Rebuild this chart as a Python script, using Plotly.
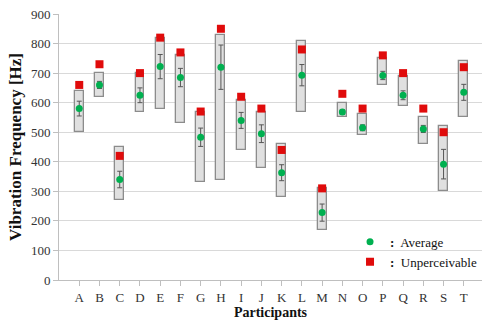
import plotly.graph_objects as go

participants = list("ABCDEFGHIJKLMNOPQRST")
range_min = [500, 620, 270, 570, 580, 530, 330, 340, 440, 380, 280, 570, 170, 550, 490, 660, 590, 460, 300, 550]
range_max = [640, 700, 450, 700, 820, 760, 570, 830, 610, 570, 460, 810, 310, 600, 560, 750, 690, 550, 520, 740]
average = [580, 660, 340, 625, 722, 685, 483, 720, 540, 495, 363, 693, 228, 568, 515, 692, 625, 511, 392, 635]
avg_err = [25, 12, 28, 25, 41, 31, 31, 75, 27, 30, 27, 36, 29, 8, 10, 14, 15, 12, 50, 27]
unperceivable = [660, 730, 420, 700, 820, 770, 570, 850, 620, 580, 440, 780, 310, 630, 580, 760, 700, 580, 500, 720]
y_ticks = [0, 100, 200, 300, 400, 500, 600, 700, 800, 900]

xpos = list(range(1, len(participants) + 1))
serif = "Liberation Serif, Times New Roman, serif"

fig = go.Figure()
fig.add_trace(go.Bar(
    x=xpos, y=[hi - lo for lo, hi in zip(range_min, range_max)], base=range_min,
    width=0.44, marker=dict(color="#e0e0e0", line=dict(color="#8c8c8c", width=1.3)),
    showlegend=False, hoverinfo="skip"))
fig.add_trace(go.Scatter(
    x=xpos, y=unperceivable, mode="markers", name="<b>:</b>  Unperceivable",
    marker=dict(symbol="square", size=8, color="#e00b0b")))
fig.add_trace(go.Scatter(
    x=xpos, y=average, mode="markers", name="<b>:</b>  Average",
    marker=dict(symbol="circle", size=7, color="#00b050"),
    error_y=dict(type="data", array=avg_err, color="#555555", thickness=1, width=2.5)))

fig.update_layout(
    width=482, height=322,
    margin=dict(l=59, r=0, t=14, b=42, autoexpand=False),
    paper_bgcolor="white", plot_bgcolor="white",
    font=dict(family=serif, size=13, color="#333333"),
    bargap=0,
    legend=dict(x=0.688, y=0.2, xanchor="left", yanchor="top", traceorder="reversed",
                bgcolor="rgba(0,0,0,0)", font=dict(family=serif, size=13, color="#111111"),
                itemwidth=30, tracegroupgap=2),
    xaxis=dict(range=[0, 20.9], tickmode="array", tickvals=xpos, ticktext=participants,
               automargin=False,
               showgrid=False, showline=True, linecolor="#bfbfbf", linewidth=1,
               ticks="outside", ticklen=5, tickcolor="#bfbfbf", zeroline=False,
               title=dict(text="<b>Participants</b>", font=dict(family=serif, size=14, color="#111111"), standoff=2)),
    yaxis=dict(range=[0, 900], tickmode="array", tickvals=y_ticks, automargin=False,
               showgrid=True, gridcolor="#d9d9d9", gridwidth=1,
               showline=True, linecolor="#bfbfbf", linewidth=1,
               ticks="outside", ticklen=5, tickcolor="#bfbfbf", zeroline=False,
               title=dict(text="<b>Vibration Frequency [Hz]</b>", font=dict(family=serif, size=17, color="#111111"), standoff=4)),
)

fig.write_html("out.html", config={"displayModeBar": False},
               post_script="document.body.style.margin='0';document.body.style.overflow='hidden';")
